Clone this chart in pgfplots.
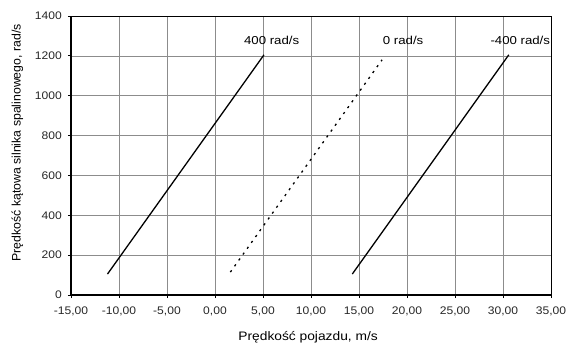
\documentclass[border=0pt]{standalone}
\usepackage{pgfplots}
\pgfplotsset{compat=1.18}
\usepackage{fontspec}
\setmainfont{Liberation Sans}
\begin{document}
\begin{tikzpicture}
\begin{axis}[
  scale only axis,
  width=480pt, height=279pt,
  xmin=-15, xmax=35, ymin=0, ymax=1400,
  xtick={-15,-10,...,35},
  ytick={0,200,...,1400},
  grid=major,
  major grid style={draw=black!45, line width=0.5pt},
  axis line style={line width=0.5pt},
  tick align=outside,
  tick pos=left,
  major tick length=3pt,
  tick style={black, line width=0.8pt},
  xticklabel style={/pgf/number format/.cd, fixed, fixed zerofill, precision=2, use comma, assume math mode=true, /tikz/yshift=-5pt},
  yticklabel style={/pgf/number format/.cd, fixed, assume math mode=true, 1000 sep={}, /tikz/xshift=-2pt},
  ticklabel style={font=\fontsize{11}{13}\selectfont, text=black!85, xscale=1.1},
  xlabel={Prędkość pojazdu, m/s},
  ylabel={Prędkość kątowa silnika spalinowego, rad/s},
  xlabel style={font=\fontsize{12.3}{14}\selectfont, xscale=1.12, at={(axis description cs:0.494,-0.152)}, anchor=center},
  ylabel style={font=\fontsize{12.3}{14}\selectfont, at={(axis description cs:-0.1115,0.545)}, anchor=center},
  clip=false,
]
\addplot[black, line width=1.3pt] coordinates {(-11.2,105) (5.1,1205)};
\addplot[black, line width=1.3pt, dash pattern=on 2.2pt off 5pt] coordinates {(1.6,115) (17.4,1180)};
\addplot[black, line width=1.3pt] coordinates {(14.3,105) (30.6,1205)};
\addplot[teal!70, line width=1.5pt] coordinates {(0.95,0) (2.05,0)};
\draw[black, line width=1.6pt] (axis cs:-15,0) -- (axis cs:35,0);
\draw[black, line width=1.6pt] (axis cs:-15,0) -- (axis cs:-15,1400);
\node[font=\fontsize{11.5}{13}\selectfont, xscale=1.15] at (axis cs:5.9,1279) {400 rad/s};
\node[font=\fontsize{11.5}{13}\selectfont, xscale=1.15] at (axis cs:19.6,1279) {0 rad/s};
\node[font=\fontsize{11.5}{13}\selectfont, xscale=1.15] at (axis cs:31.8,1279) {-400 rad/s};
\end{axis}
\pgfresetboundingbox
\path (-71pt,-50pt) rectangle (496pt,295pt);
\end{tikzpicture}
\end{document}
